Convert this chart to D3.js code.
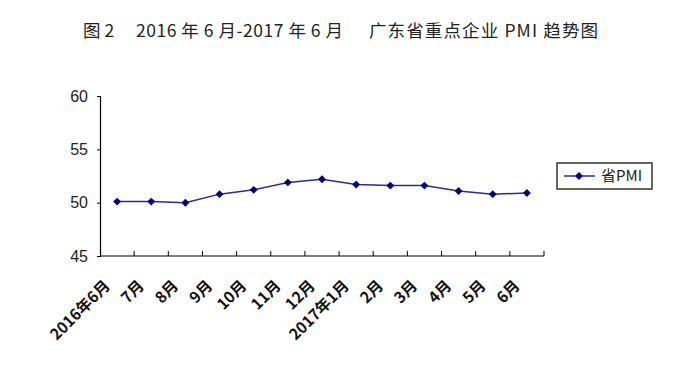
<!DOCTYPE html>
<html>
<head>
<meta charset="utf-8">
<script src="https://cdn.jsdelivr.net/npm/d3@7/dist/d3.min.js"></script>
<style>
  body { margin: 0; background: #fff; }
  svg { display: block; }
</style>
</head>
<body>
<div id="chart"></div>
<script>
// 月份
var months = ["2016年6月", "7月", "8月", "9月", "10月", "11月", "12月",
              "2017年1月", "2月", "3月", "4月", "5月", "6月"];
// 省PMI
var pmi = [50.1, 50.1, 50.0, 50.8, 51.2, 51.9, 52.2, 51.7, 51.6, 51.6, 51.1, 50.8, 50.9];
var yTicks = [45, 50, 55, 60];
var seriesName = "省PMI";
// 标题分三段
var titleParts = ["图 2", "2016 年 6 月-2017 年 6 月", "广东省重点企业 PMI 趋势图"];

var W = 700, H = 381;
var area = { l: 100, r: 544, t: 96, b: 256 };
var lineColor = "#2b2b96", markColor = "#000080";

var svg = d3.select("#chart").append("svg")
    .attr("width", W).attr("height", H);

// 标题
var titleX = [83, 136, 369], titleW = [null, 207, 229];
svg.selectAll("text.title").data(titleParts).enter().append("text")
    .attr("class", "title")
    .attr("x", (d, i) => titleX[i]).attr("y", 37)
    .attr("textLength", (d, i) => titleW[i])
    .attr("lengthAdjust", "spacing")
    .style("white-space", "pre")
    .style("font-family", "'Noto Sans CJK SC', sans-serif")
    .style("font-size", "17.5px")
    .style("fill", "#222")
    .text(d => d);

var xScale = d3.scaleBand().domain(months).range([area.l, area.r]);
var yScale = d3.scaleLinear().domain([45, 60]).range([area.b, area.t]);

// y轴
var yAxis = svg.append("g")
    .attr("transform", "translate(" + area.l + ",0)")
    .call(d3.axisLeft(yScale).tickValues(yTicks).tickSize(3).tickPadding(9).tickFormat(d3.format("d")));
yAxis.select(".domain").attr("stroke", "#000").attr("stroke-width", 1.2);
yAxis.selectAll(".tick line").attr("stroke", "#000");
yAxis.selectAll("text")
    .style("font-family", "'Liberation Sans', Arial, sans-serif")
    .style("font-size", "16px")
    .style("fill", "#222");

// x轴
var xg = svg.append("g").attr("transform", "translate(0," + area.b + ")");
xg.append("line")
    .attr("x1", area.l).attr("x2", area.r)
    .attr("stroke", "#000").attr("stroke-width", 1.2);
var bounds = months.map(function(d) { return xScale(d); }).concat([area.r]);
xg.selectAll("line.tk").data(bounds.slice(1)).enter().append("line")
    .attr("class", "tk")
    .attr("x1", d => d).attr("x2", d => d)
    .attr("y1", 0).attr("y2", -5)
    .attr("stroke", "#000");
xg.selectAll("text.lbl").data(months).enter().append("text")
    .attr("class", "lbl")
    .attr("transform", d => "translate(" + (xScale(d) + xScale.bandwidth() / 2 - 10) + ",27) rotate(-45)")
    .attr("text-anchor", "end")
    .attr("dy", "0.35em")
    .style("font-family", "'Noto Sans CJK SC', sans-serif")
    .style("font-size", "15.5px")
    .style("font-weight", "bold")
    .style("fill", "#111")
    .text(d => d);

// 折线
var cx = d => xScale(d) + xScale.bandwidth() / 2;
var line = d3.line()
    .x((d, i) => cx(months[i]))
    .y(d => yScale(d));
svg.append("path")
    .datum(pmi)
    .attr("fill", "none")
    .attr("stroke", lineColor)
    .attr("stroke-width", 1.5)
    .attr("d", line);

var diamond = d3.symbol().type(d3.symbolDiamond2).size(40);
svg.selectAll("path.pt").data(pmi).enter().append("path")
    .attr("class", "pt")
    .attr("d", diamond)
    .attr("transform", (d, i) => "translate(" + cx(months[i]) + "," + yScale(d) + ")")
    .attr("fill", markColor);

// 图例
var lg = svg.append("g").attr("transform", "translate(557,163)");
lg.append("rect")
    .attr("width", 95).attr("height", 26)
    .attr("fill", "#fff")
    .attr("stroke", "#333").attr("stroke-width", 1.5);
lg.append("line")
    .attr("x1", 7).attr("x2", 38).attr("y1", 13).attr("y2", 13)
    .attr("stroke", lineColor).attr("stroke-width", 1.5);
lg.append("path")
    .attr("d", diamond)
    .attr("transform", "translate(22,13)")
    .attr("fill", markColor);
lg.append("text")
    .attr("x", 44).attr("y", 13).attr("dy", "0.36em")
    .style("font-family", "'Noto Sans CJK SC', sans-serif")
    .style("font-size", "15px")
    .style("fill", "#222")
    .text(seriesName);
</script>
</body>
</html>
